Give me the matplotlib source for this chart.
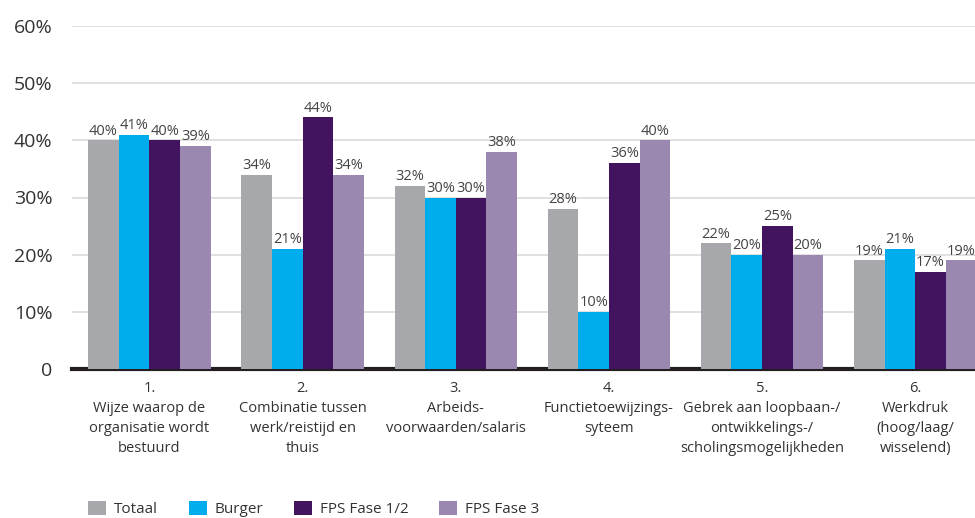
import matplotlib
matplotlib.use("Agg")
import matplotlib.pyplot as plt
import numpy as np

# ── Data ──────────────────────────────────────────────────────────────────────
categories = [
    "1.\nWijze waarop de\norganisatie wordt\nbestuurd",
    "2.\nCombinatie tussen\nwerk/reistijd en\nthuis",
    "3.\nArbeids-\nvoorwaarden/salaris",
    "4.\nFunctietoewijzings-\nsyteem",
    "5.\nGebrek aan loopbaan-/\nontwikkelings-/\nscholingsmogelijkheden",
    "6.\nWerkdruk\n(hoog/laag/\nwisselend)",
]
series_names = ["Totaal", "Burger", "FPS Fase 1/2", "FPS Fase 3"]
totaal = [40, 34, 32, 28, 22, 19]
burger = [41, 21, 30, 10, 20, 21]
fps12 = [40, 44, 30, 36, 25, 17]
fps3 = [39, 34, 38, 40, 20, 19]
yticks = [0, 10, 20, 30, 40, 50, 60]
ytick_labels = ["0", "10%", "20%", "30%", "40%", "50%", "60%"]

COLORS = ["#A7A8AB", "#00ADEC", "#42145F", "#9A88B0"]
TEXT = "#333333"

plt.rcParams["font.family"] = ["Open Sans", "DejaVu Sans"]

fig = plt.figure(figsize=(9.75, 5.18), dpi=100)
ax = fig.add_axes([72 / 975, 149 / 518, 1 - 72 / 975, 343 / 518])

x = np.arange(len(categories))
bw = 0.2
handles = []
for i, (vals, col) in enumerate(zip([totaal, burger, fps12, fps3], COLORS)):
    bars = ax.bar(x + (i - 1.5) * bw, vals, bw, color=col, zorder=3)
    handles.append(bars)
    for b, v in zip(bars, vals):
        ax.text(b.get_x() + b.get_width() / 2, v + 0.3, f"{v}%",
                ha="center", va="bottom", fontsize=10.5, color="#444444", zorder=4)

ax.set_xlim(-0.506, 5.39)
ax.set_ylim(0, 60)
ax.set_yticks(yticks)
ax.set_yticklabels(ytick_labels, fontsize=14, color=TEXT)
ax.tick_params(axis="y", length=0, pad=14)
ax.grid(axis="y", color="#DADADA", linewidth=1.2, zorder=0)
ax.set_xticks(x)
ax.set_xticklabels(categories, fontsize=10.5, color=TEXT, linespacing=1.45)
ax.tick_params(axis="x", length=0, pad=9)
for s in ax.spines.values():
    s.set_visible(False)
ax.axhline(0, color="#231F20", linewidth=3, zorder=2, clip_on=False)

fig.legend(handles, series_names, loc="center left",
           bbox_to_anchor=(88 / 975, 9 / 518), ncol=4, frameon=False,
           fontsize=11, labelcolor=TEXT, handlelength=1.2, handleheight=1.1,
           handletextpad=0.5, columnspacing=2.0, borderpad=0, borderaxespad=0)

fig.savefig("out.png", dpi=100)
